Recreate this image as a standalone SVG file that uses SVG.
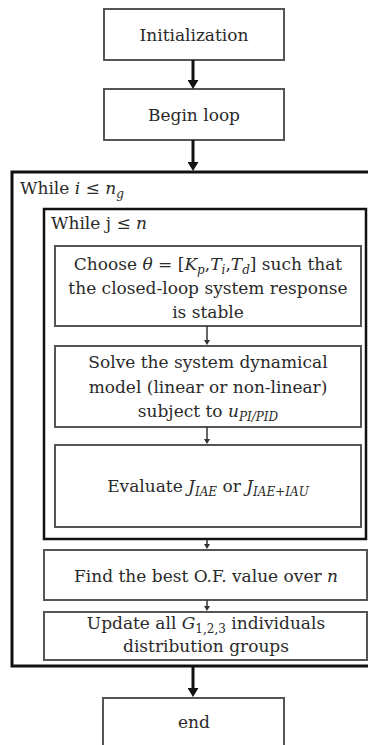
<svg xmlns="http://www.w3.org/2000/svg" width="368" height="745" viewBox="0 0 368 745">
<defs>
<marker id="big" markerWidth="9" markerHeight="11" refX="0" refY="5.5" orient="auto" markerUnits="userSpaceOnUse" viewBox="0 0 9 11">
<path d="M0,0 L9,5.5 L0,11 Z" fill="#111"/>
</marker>
<marker id="small" markerWidth="5" markerHeight="6" refX="0" refY="3" orient="auto" markerUnits="userSpaceOnUse" viewBox="0 0 5 6">
<path d="M0,0 L5,3 L0,6 Z" fill="#333"/>
</marker>
</defs>
<style>
.box{fill:#fff;stroke:#555;stroke-width:2}
.loop{fill:#fff;stroke:#111;stroke-width:3}
text{font-family:"DejaVu Serif","Liberation Serif",serif;font-size:17px;fill:#2a2a2a}
.t{text-anchor:middle}
.m{font-style:italic}
.s{font-size:12px;font-style:italic}
.big{stroke:#111;stroke-width:3;fill:none}
.sm{stroke:#333;stroke-width:1.5;fill:none}
</style>
<rect width="368" height="745" fill="#fff"/>
<g id="outer-loop">
<rect class="loop" x="12" y="172" width="370" height="494"/>
<text x="20" y="194" font-family="DejaVu Serif, serif">While <tspan class="m">i</tspan> ≤ <tspan class="m">n</tspan><tspan class="s" dy="4">g</tspan></text>
</g>
<g id="inner-loop">
<rect class="loop" x="44" y="209" width="322" height="330" style="stroke-width:2.5"/>
<text x="51" y="229" font-family="DejaVu Serif, serif">While j ≤ <tspan class="m">n</tspan></text>
</g>
<g id="init">
<rect class="box" x="104" y="9" width="180" height="51"/>
<text class="t" x="194" y="41" font-family="DejaVu Serif, serif">Initialization</text>
</g>
<g id="begin">
<rect class="box" x="104" y="89" width="180" height="51"/>
<text class="t" x="194" y="121" font-family="DejaVu Serif, serif">Begin loop</text>
</g>
<g id="choose">
<rect class="box" x="55" y="246" width="306" height="80"/>
<text class="t" x="208" y="270" font-family="DejaVu Serif, serif">Choose <tspan class="m">θ</tspan> = [<tspan class="m">K</tspan><tspan class="s" dy="4">p</tspan><tspan dy="-4">,</tspan><tspan class="m">T</tspan><tspan class="s" dy="4">i</tspan><tspan dy="-4">,</tspan><tspan class="m">T</tspan><tspan class="s" dy="4">d</tspan><tspan dy="-4">] such that</tspan></text>
<text class="t" x="208" y="294" font-family="DejaVu Serif, serif">the closed-loop system response</text>
<text class="t" x="208" y="318" font-family="DejaVu Serif, serif">is stable</text>
</g>
<g id="solve">
<rect class="box" x="55" y="346" width="306" height="81"/>
<text class="t" x="208" y="368" font-family="DejaVu Serif, serif">Solve the system dynamical</text>
<text class="t" x="208" y="393" font-family="DejaVu Serif, serif">model (linear or non-linear)</text>
<text class="t" x="208" y="417" font-family="DejaVu Serif, serif">subject to <tspan class="m">u</tspan><tspan class="s" dy="4">PI/PID</tspan></text>
</g>
<g id="evaluate">
<rect class="box" x="55" y="445" width="306" height="82"/>
<text class="t" x="208" y="492" font-family="DejaVu Serif, serif">Evaluate <tspan class="m">J</tspan><tspan class="s" dy="4">IAE</tspan><tspan dy="-4"> or </tspan><tspan class="m">J</tspan><tspan class="s" dy="4">IAE+IAU</tspan></text>
</g>
<g id="find">
<rect class="box" x="44" y="550" width="323" height="50"/>
<text class="t" x="206" y="582" font-family="DejaVu Serif, serif">Find the best O.F. value over <tspan class="m">n</tspan></text>
</g>
<g id="update">
<rect class="box" x="44" y="612" width="323" height="48"/>
<text class="t" x="206" y="629" font-family="DejaVu Serif, serif">Update all <tspan class="m">G</tspan><tspan class="s" dy="4" style="font-style:normal">1,2,3</tspan><tspan dy="-4"> individuals</tspan></text>
<text class="t" x="206" y="652" font-family="DejaVu Serif, serif">distribution groups</text>
</g>
<g id="end">
<rect class="box" x="103" y="698" width="181" height="60"/>
<text class="t" x="194" y="728" font-family="DejaVu Serif, serif">end</text>
</g>
<g id="connectors">
<line class="big" x1="193" y1="60" x2="193" y2="80" marker-end="url(#big)"/>
<line class="big" x1="193" y1="140" x2="193" y2="162" marker-end="url(#big)"/>
<line class="big" x1="193" y1="667" x2="193" y2="688" marker-end="url(#big)"/>
<line class="sm" x1="207" y1="326" x2="207" y2="340" marker-end="url(#small)"/>
<line class="sm" x1="207" y1="427" x2="207" y2="439" marker-end="url(#small)"/>
<line class="sm" x1="207" y1="540" x2="207" y2="544" marker-end="url(#small)"/>
<line class="sm" x1="207" y1="600" x2="207" y2="606" marker-end="url(#small)"/>
</g>
</svg>
